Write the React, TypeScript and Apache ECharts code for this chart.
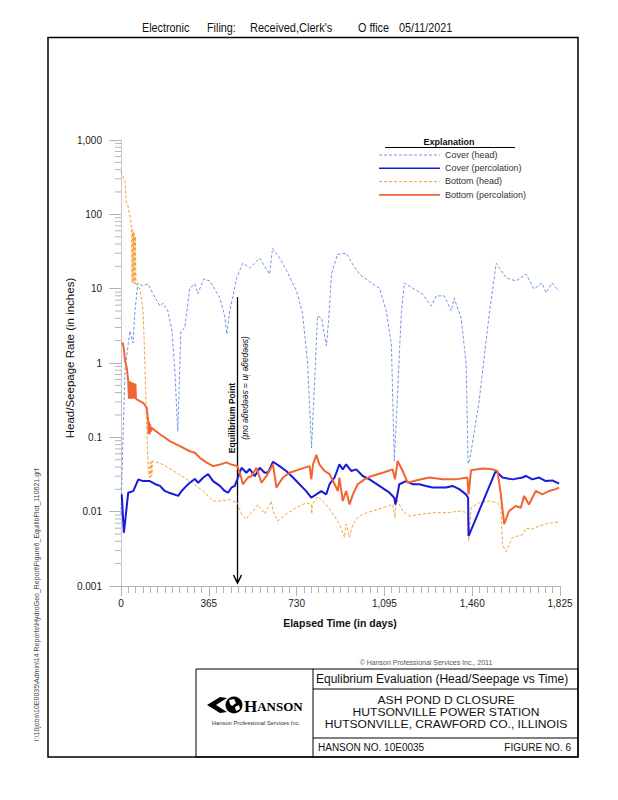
import React, { useEffect, useRef } from "react";
import * as echarts from "echarts";

// ---------- axis ticks ----------
const xTicks = [0, 365, 730, 1095, 1460, 1825];
const xTickLabels = ["0", "365", "730", "1,095", "1,460", "1,825"];
const yTicks = [0.001, 0.01, 0.1, 1, 10, 100, 1000];
const yTickLabels = ["0.001", "0.01", "0.1", "1", "10", "100", "1,000"];
const yMinorMultipliers = [2, 3, 4, 5, 6, 7, 8, 9];
const yMinorDecades = [0.001, 0.01, 0.1, 1, 10, 100];

const seriesNames = ["Cover (head)", "Cover (percolation)", "Bottom (head)", "Bottom (percolation)"];
const seriesColors = ["#7294e8", "#1a1ad8", "#f4a23a", "#f26432"];
const seriesWidths = [1, 2, 1, 2];
const seriesDashed = [true, false, true, false];

// ---------- series values: [elapsed day, inches] ----------
const coverHead: [number, number][] = [
  [0, 0.009], [4, 0.03], [8, 0.09], [17, 0.83], [29, 1.7], [37, 2.7], [50, 1.86], [58, 5.0], [70, 11.9],
  [91, 10.9], [112, 11.6], [133, 8.5], [162, 5.85], [174, 6.4], [195, 5.0], [212, 2.7], [224, 0.78],
  [236, 0.12], [249, 2.7], [265, 2.96], [286, 10.2], [307, 11.6], [319, 8.5], [344, 13.5], [369, 12.7],
  [411, 7.5], [431, 4.3], [440, 2.45], [452, 5.0], [481, 13.9], [506, 22], [535, 19], [556, 22], [577, 25.8],
  [597, 20], [618, 15.7], [630, 35], [660, 25.8], [689, 17.3], [730, 9.3], [755, 4.6], [776, 0.97],
  [792, 0.072], [805, 0.57], [817, 4.3], [834, 4.0], [854, 1.7], [863, 3.7], [875, 15.7], [900, 29],
  [937, 30], [962, 21.5], [991, 15.7], [1045, 11.6], [1074, 10.2], [1103, 5.0], [1124, 1.8], [1136, 0.048],
  [1149, 0.34], [1165, 4.6], [1178, 11.9], [1211, 10.2], [1253, 8.5], [1290, 5.85], [1311, 8.0], [1344, 8.0],
  [1373, 5.0], [1385, 7.5], [1414, 4.0], [1435, 0.97], [1443, 0.044], [1450, 0.05], [1489, 0.31],
  [1531, 4.6], [1560, 22], [1601, 14], [1642, 12.7], [1684, 15.7], [1717, 9.9], [1750, 11.9], [1767, 8.8],
  [1792, 11.9], [1821, 9.3],
];

const coverPerc: [number, number][] = [
  [3, 0.0171], [12, 0.0052], [30, 0.018], [51, 0.0189], [72, 0.0272], [92, 0.0258], [120, 0.0258],
  [141, 0.0236], [162, 0.0222], [182, 0.019], [203, 0.0178], [238, 0.0163], [252, 0.019], [272, 0.0222],
  [286, 0.0245], [307, 0.0275], [321, 0.0245], [341, 0.0286], [362, 0.032], [383, 0.0258], [411, 0.0222],
  [431, 0.019], [445, 0.018], [459, 0.021], [473, 0.0222], [484, 0.0275], [501, 0.039], [521, 0.0334],
  [535, 0.0375], [556, 0.03], [577, 0.039], [597, 0.0334], [612, 0.034], [632, 0.047], [659, 0.041],
  [687, 0.0353], [715, 0.0288], [742, 0.0234], [770, 0.0189], [791, 0.0154], [812, 0.0171], [832, 0.0189],
  [853, 0.0171], [867, 0.0234], [888, 0.0288], [908, 0.0432], [922, 0.0371], [936, 0.0432], [957, 0.0353],
  [978, 0.0371], [1005, 0.0302], [1033, 0.0272], [1074, 0.0222], [1116, 0.018], [1136, 0.0154],
  [1141, 0.0125], [1157, 0.0234], [1185, 0.0258], [1212, 0.0234], [1240, 0.0234], [1268, 0.0222],
  [1295, 0.0211], [1323, 0.0211], [1351, 0.0211], [1378, 0.0222], [1406, 0.0201], [1434, 0.0171],
  [1443, 0.0154], [1445, 0.0047], [1558, 0.0353], [1586, 0.0288], [1627, 0.0272], [1669, 0.0288],
  [1683, 0.0302], [1710, 0.0272], [1738, 0.0288], [1766, 0.0258], [1793, 0.0263], [1821, 0.0239],
];

const bottomHead: [number, number][] = [
  [0, 380], [3, 350], [17, 280], [21, 150], [29, 130], [38, 90], [44, 66], [46, 12], [48, 62], [50, 12],
  [52, 58], [54, 11.8], [56, 55], [58, 11.6], [60, 50], [62, 11.5], [65, 11.4], [79, 9.8], [92, 5.0],
  [99, 1.06], [107, 0.134], [113, 0.039], [118, 0.0288], [121, 0.046], [123, 0.029], [126, 0.047],
  [128, 0.03], [131, 0.048], [134, 0.048], [175, 0.043], [231, 0.0334], [286, 0.0258], [341, 0.019],
  [383, 0.0139], [411, 0.0139], [452, 0.0145], [484, 0.0132], [501, 0.0092], [521, 0.0079], [535, 0.0093],
  [549, 0.0102], [569, 0.0125], [577, 0.0113], [590, 0.0102], [597, 0.0093], [611, 0.0113], [625, 0.0139],
  [632, 0.0102], [652, 0.0075], [687, 0.0093], [729, 0.0113], [770, 0.0132], [791, 0.0125], [793, 0.0093],
  [796, 0.0125], [818, 0.016], [853, 0.0125], [881, 0.0093], [908, 0.0068], [929, 0.0045], [936, 0.0068],
  [950, 0.0045], [964, 0.0068], [984, 0.0083], [1005, 0.0093], [1046, 0.0102], [1088, 0.0113],
  [1129, 0.0125], [1139, 0.0083], [1143, 0.0154], [1171, 0.0102], [1199, 0.0087], [1254, 0.0093],
  [1309, 0.0097], [1365, 0.0097], [1406, 0.0102], [1440, 0.0097], [1445, 0.004], [1455, 0.0113],
  [1489, 0.0132], [1531, 0.0139], [1565, 0.0132], [1579, 0.0113], [1586, 0.0036], [1600, 0.0029],
  [1627, 0.0045], [1669, 0.0049], [1683, 0.006], [1710, 0.0058], [1738, 0.0064], [1766, 0.0068],
  [1793, 0.0071], [1821, 0.0073],
];

const bottomPerc: [number, number][] = [
  [3, 1.78], [7, 1.88], [12, 1.53], [17, 1.06], [24, 0.86], [30, 0.57], [33, 0.33], [35, 0.57], [37, 0.33],
  [39, 0.56], [41, 0.33], [43, 0.55], [45, 0.33], [47, 0.54], [49, 0.33], [51, 0.54], [53, 0.33], [55, 0.53],
  [57, 0.33], [60, 0.53], [62, 0.33], [65, 0.325], [92, 0.29], [107, 0.25], [113, 0.166], [115, 0.11],
  [117, 0.16], [119, 0.11], [121, 0.15], [124, 0.12], [127, 0.134], [162, 0.11], [203, 0.089], [245, 0.076],
  [286, 0.065], [307, 0.062], [328, 0.053], [355, 0.046], [383, 0.041], [411, 0.043], [438, 0.046],
  [459, 0.043], [484, 0.041], [494, 0.0334], [507, 0.0234], [528, 0.0288], [542, 0.03], [563, 0.039],
  [584, 0.0245], [604, 0.03], [632, 0.0432], [646, 0.0211], [673, 0.0288], [701, 0.0334], [742, 0.0371],
  [784, 0.041], [791, 0.0272], [798, 0.043], [812, 0.058], [825, 0.043], [846, 0.0353], [867, 0.032],
  [888, 0.0234], [902, 0.019], [908, 0.0288], [922, 0.0139], [936, 0.019], [950, 0.0125], [964, 0.0171],
  [984, 0.0234], [1012, 0.0272], [1040, 0.03], [1088, 0.0334], [1129, 0.0371], [1139, 0.0272], [1150, 0.048],
  [1171, 0.0353], [1192, 0.0245], [1226, 0.0263], [1282, 0.0288], [1337, 0.0272], [1392, 0.0272],
  [1440, 0.0288], [1445, 0.0171], [1455, 0.036], [1503, 0.038], [1544, 0.0371], [1565, 0.0353],
  [1579, 0.0171], [1593, 0.0068], [1613, 0.0102], [1641, 0.0119], [1662, 0.0113], [1676, 0.0163],
  [1696, 0.0125], [1724, 0.019], [1752, 0.0171], [1780, 0.019], [1807, 0.0201], [1821, 0.0211],
];

const seriesData = [coverHead, coverPerc, bottomHead, bottomPerc];

const FONT = "'Liberation Sans', Arial, sans-serif";
const AXIS_GRAY = "#b4b4b4";

function txt(text: string, x: number, y: number, opts: any = {}) {
  const { align = "left", vAlign = "middle", size = 10, weight = "normal", fill = "#111", style = "normal", family = FONT, rotation = 0, scaleX = 1 } = opts;
  return {
    type: "text",
    x,
    y,
    rotation,
    scaleX,
    silent: true,
    style: {
      text,
      fill,
      fontSize: size,
      fontWeight: weight,
      fontStyle: style,
      fontFamily: family,
      align,
      verticalAlign: vAlign,
      textAlign: align,
      textVerticalAlign: vAlign,
    },
  };
}

function ln(x1: number, y1: number, x2: number, y2: number, w = 1, c = "#000", dash?: number[]) {
  const style: any = { stroke: c, lineWidth: w };
  if (dash) style.lineDash = dash;
  return { type: "line", silent: true, shape: { x1, y1, x2, y2 }, style };
}

function buildOption() {
  const yMinorValues: number[] = [];
  yMinorDecades.forEach((d) => yMinorMultipliers.forEach((m) => yMinorValues.push(+(d * m).toPrecision(3))));

  const zs = [2, 4, 3, 5];
  const lines = seriesNames.map((name, i) => ({
    name,
    type: "line",
    data: seriesData[i],
    symbol: "none",
    showSymbol: false,
    silent: true,
    z: zs[i],
    itemStyle: { color: seriesColors[i] },
    lineStyle: { color: seriesColors[i], width: seriesWidths[i], type: seriesDashed[i] ? [3, 2] : "solid" },
  }));

  // legend row y positions (matched to legend text rows)
  const legendTop = 144.5;
  const legendRow = 13.3;
  const legendLines = seriesNames.map((_, i) =>
    ln(379, legendTop + 10.5 + i * legendRow, 440, legendTop + 10.5 + i * legendRow, seriesWidths[i] === 2 ? 1.6 : 1, seriesColors[i], seriesDashed[i] ? [3, 2] : undefined)
  );

  const graphic: any[] = [
    // header
    txt("Electronic", 142, 28, { size: 12, scaleX: 0.9 }),
    txt("Filing:", 207, 28, { size: 12, scaleX: 0.9 }),
    txt("Received,Clerk's", 250, 28, { size: 12, scaleX: 0.92 }),
    txt("O ffice", 358, 28, { size: 12, scaleX: 0.9 }),
    txt("05/11/2021", 399, 28, { size: 12, scaleX: 0.9 }),
    // frame
    { type: "rect", silent: true, shape: { x: 48, y: 37.5, width: 530, height: 719.5 }, style: { fill: "none", stroke: "#000", lineWidth: 1.5 } },
    // side path text
    txt("I:\\10jobs\\10E0035\\Admin\\14 Reports\\HydroGeo_Report\\Figure6_EquilibPlot_110621.grf", 36, 605, {
      size: 7, align: "center", rotation: Math.PI / 2, fill: "#444",
    }),
    // axis titles
    txt("Head/Seepage Rate (in inches)", 70, 358, { size: 11.5, align: "center", rotation: Math.PI / 2 }),
    txt("Elapsed Time (in days)", 340, 623, { size: 10.5, weight: "bold", align: "center" }),
    // legend heading + sample lines
    txt("Explanation", 449, 142, { size: 9, weight: "bold", align: "center" }),
    ln(385, 147.5, 515, 147.5, 1, "#000"),
    ...legendLines,
    // equilibrium arrow
    ln(237.5, 297, 237.5, 582, 1.3, "#000"),
    { type: "polyline", silent: true, shape: { points: [[233.5, 575], [237.5, 583], [241.5, 575]] }, style: { fill: "none", stroke: "#000", lineWidth: 1.5 } },
    txt("Equilibrium Point", 232, 418, { size: 8.5, weight: "bold", align: "center", rotation: Math.PI / 2 }),
    txt("(seepage in = seepage out)", 246, 388, { size: 8.5, style: "italic", align: "center", rotation: -Math.PI / 2 }),
    // copyright
    txt("\u00A9 Hanson Professional Services Inc., 2011", 426, 662, { size: 7, align: "center", fill: "#555" }),
    // title block
    { type: "rect", silent: true, shape: { x: 196, y: 669, width: 382, height: 88 }, style: { fill: "none", stroke: "#000", lineWidth: 1 } },
    ln(313, 669, 313, 757, 1),
    ln(313, 689, 578, 689, 1),
    ln(313, 738, 578, 738, 1),
    txt("Equlibrium Evaluation (Head/Seepage vs Time)", 316, 679, { size: 12 }),
    txt("ASH POND D CLOSURE", 446, 700, { size: 11, align: "center", scaleX: 1.1 }),
    txt("HUTSONVILLE POWER STATION", 446, 712, { size: 11, align: "center", scaleX: 1.1 }),
    txt("HUTSONVILLE, CRAWFORD CO., ILLINOIS", 446, 724, { size: 11, align: "center", scaleX: 1.1 }),
    txt("HANSON NO. 10E0035", 318, 747.5, { size: 10 }),
    txt("FIGURE NO. 6", 571, 747.5, { size: 10, align: "right" }),
    // logo
    {
      type: "polygon", silent: true,
      shape: { points: [[207, 705], [220, 697], [227, 698], [216, 705], [227, 712], [220, 713]] },
      style: { fill: "#000" },
    },
    { type: "circle", silent: true, shape: { cx: 234, cy: 705, r: 8.5 }, style: { fill: "#000" } },
    { type: "polygon", silent: true, shape: { points: [[229, 700], [234, 699], [236, 703], [232, 706], [230, 704]] }, style: { fill: "#fff" } },
    { type: "polygon", silent: true, shape: { points: [[235, 707], [239, 705], [240, 709], [236, 711]] }, style: { fill: "#fff" } },
    {
      type: "text", x: 244, y: 706, silent: true,
      style: {
        text: "{a|H}{b|ANSON}",
        fill: "#000",
        align: "left", verticalAlign: "middle", textAlign: "left", textVerticalAlign: "middle",
        rich: {
          a: { fontSize: 17, fontFamily: "'Liberation Serif', serif", fontWeight: "bold", fill: "#000" },
          b: { fontSize: 13, fontFamily: "'Liberation Serif', serif", fontWeight: "bold", fill: "#000" },
        },
      },
    },
    txt("Hanson Professional Services Inc.", 256, 723, { size: 5.8, align: "center", fill: "#333" }),
  ];

  return {
    animation: false,
    backgroundColor: "#fff",
    textStyle: { fontFamily: FONT },
    grid: { left: 121, right: 58, top: 140, bottom: 214, containLabel: false },
    legend: {
      data: seriesNames,
      icon: "none",
      orient: "vertical",
      left: 373,
      top: legendTop,
      itemWidth: 62,
      itemHeight: 10,
      itemGap: 3.9,
      selectedMode: false,
      textStyle: { fontSize: 9, color: "#333", fontFamily: FONT },
    },
    xAxis: {
      type: "value",
      min: 0,
      max: 1825,
      interval: 365,
      axisLine: { show: true, onZero: false, lineStyle: { color: AXIS_GRAY, width: 1 } },
      axisTick: { show: true, length: 10, lineStyle: { color: AXIS_GRAY } },
      minorTick: { show: true, splitNumber: 12, length: 7, lineStyle: { color: AXIS_GRAY } },
      splitLine: { show: false },
      axisLabel: {
        margin: 12,
        fontSize: 10,
        color: "#222",
        formatter: (v: number) => {
          const i = xTicks.indexOf(Math.round(v));
          return i >= 0 ? xTickLabels[i] : "";
        },
      },
    },
    yAxis: {
      type: "log",
      logBase: 10,
      min: 0.001,
      max: 1000,
      splitNumber: 6,
      axisLine: { show: true, lineStyle: { color: "#c8c8c8", width: 1 } },
      axisTick: { show: true, length: 12, lineStyle: { color: AXIS_GRAY } },
      splitLine: { show: false },
      axisLabel: {
        margin: 19,
        fontSize: 10,
        color: "#222",
        formatter: (v: number) => {
          const k = Math.round(Math.log10(v));
          const i = yTicks.findIndex((t) => Math.round(Math.log10(t)) === k);
          return i >= 0 ? yTickLabels[i] : "";
        },
      },
    },
    graphic,
    series: [
      ...lines,
      {
        type: "custom",
        name: "yMinorTicks",
        silent: true,
        clip: false,
        data: yMinorValues.map((v) => [0, v]),
        encode: { x: 0, y: 1 },
        renderItem: (_p: any, api: any) => {
          const pt = api.coord([0, api.value(1)]);
          return {
            type: "line",
            shape: { x1: pt[0] - 6, y1: pt[1], x2: pt[0], y2: pt[1] },
            style: { stroke: AXIS_GRAY, lineWidth: 1 },
          };
        },
      },
    ],
  };
}

export default function App() {
  const ref = useRef<HTMLDivElement>(null);
  useEffect(() => {
    if (!ref.current) return;
    const chart = echarts.init(ref.current, null, { renderer: "svg", width: 618, height: 800 });
    chart.setOption(buildOption() as any);
    return () => chart.dispose();
  }, []);
  return (
    <div
      ref={ref}
      style={{ position: "absolute", left: 0, top: 0, width: 618, height: 800, background: "#fff" }}
    />
  );
}
